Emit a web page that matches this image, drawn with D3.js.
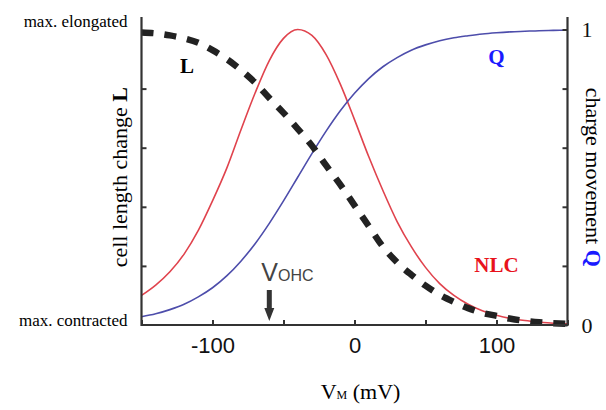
<!DOCTYPE html>
<html>
<head>
<meta charset="utf-8">
<script src="https://cdn.jsdelivr.net/npm/d3@7"></script>
<style>
  body { margin: 0; background: #fff; }
  svg text { font-family: "Liberation Serif", serif; }
</style>
</head>
<body>
<div id="chart"></div>
<script>
// membrane potential (mV)
const voltage = [-150,-140,-130,-120,-110,-100,-90,-80,-70,-60,-50,-40,-30,-20,-10,0,
                 10,20,30,40,50,60,70,80,90,100,110,120,130,140,150];
// cell length change L (normalised)
const lengthL = [0.99,0.987,0.98,0.97,0.955,0.93,0.9,0.863,0.82,0.768,0.718,0.664,0.607,0.54,0.475,0.405,
                 0.335,0.265,0.212,0.17,0.133,0.102,0.078,0.057,0.041,0.031,0.021,0.014,0.009,0.006,0.004];
// charge movement Q
const chargeQ = [0.028,0.038,0.052,0.07,0.095,0.126,0.166,0.216,0.275,0.344,0.42,0.5,0.58,0.656,0.725,0.784,
                 0.834,0.874,0.905,0.93,0.948,0.962,0.972,0.979,0.985,0.989,0.992,0.994,0.996,0.997,0.998];
// nonlinear capacitance NLC
const nlc = [0.1,0.135,0.18,0.24,0.32,0.42,0.53,0.66,0.785,0.895,0.97,1.0,0.98,0.915,0.815,0.695,
             0.57,0.455,0.35,0.265,0.195,0.14,0.1,0.07,0.048,0.033,0.022,0.015,0.01,0.006,0.004];
const xTicks = [-150,-100,-50,0,50,100,150];
const xLabels = [-100,0,100];
const yTicks = [0,0.2,0.4,0.6,0.8,1];
const vOHC = -60;

const width = 606, height = 410;

const x = d3.scaleLinear().domain([-150,150]).range([141.5,567.5]);
const y = d3.scaleLinear().domain([0,1]).range([325,29.5]);

const svg = d3.select("#chart").append("svg")
    .attr("width", width)
    .attr("height", height);

const line = (vals) => d3.line()
    .x((d, i) => x(voltage[i]))
    .y(d => y(d))
    .curve(d3.curveMonotoneX)(vals);

// curves
svg.append("path")
    .attr("d", line(nlc))
    .attr("fill", "none")
    .attr("stroke", "#e0434d")
    .attr("stroke-width", 1.6);

svg.append("path")
    .attr("d", line(chargeQ))
    .attr("fill", "none")
    .attr("stroke", "#4d4dab")
    .attr("stroke-width", 1.6);

svg.append("path")
    .attr("d", line(lengthL))
    .attr("fill", "none")
    .attr("stroke", "#222")
    .attr("stroke-width", 6.5)
    .attr("stroke-dasharray", "12,11");

// axes
const axisColor = "#333";

svg.append("g")
    .attr("transform", `translate(0,${y(0)})`)
    .call(d3.axisBottom(x).tickValues(xTicks).tickSizeInner(-5).tickSizeOuter(0).tickPadding(12)
      .tickFormat(d => xLabels.includes(d) ? (d < 0 ? "-" + Math.abs(d) : d) : ""))
    .call(g => g.select(".domain").remove())
    .call(g => g.selectAll("line").attr("stroke", axisColor).attr("stroke-width", 2))
    .call(g => g.selectAll("text").attr("fill", "#111")
      .style("font-family", "'Liberation Sans', Arial, sans-serif").style("font-size", "22px"));

svg.append("g")
    .attr("transform", `translate(${x(-150)},0)`)
    .call(d3.axisRight(y).tickValues(yTicks.slice(1, 5)).tickSize(5).tickFormat(""))
    .call(g => g.select(".domain").remove())
    .call(g => g.selectAll("line").attr("stroke", axisColor).attr("stroke-width", 2));

svg.append("g")
    .attr("transform", `translate(${x(150)},0)`)
    .call(d3.axisRight(y).tickValues(yTicks).tickSizeInner(-5).tickSizeOuter(0).tickPadding(14)
      .tickFormat(d => (d === 0 || d === 1) ? d : ""))
    .call(g => g.select(".domain").remove())
    .call(g => g.selectAll("line").attr("stroke", axisColor).attr("stroke-width", 2))
    .call(g => g.selectAll("text").attr("fill", "#111")
      .style("font-family", "'Liberation Serif', serif").style("font-size", "22px"));

// axis lines
svg.append("line")
    .attr("x1", x(-150)).attr("x2", x(150))
    .attr("y1", y(0)).attr("y2", y(0))
    .attr("stroke", axisColor).attr("stroke-width", 2.2);
[-150, 150].forEach(v => {
  svg.append("line")
      .attr("x1", x(v)).attr("x2", x(v))
      .attr("y1", y(0) + 1).attr("y2", y(1.042))
      .attr("stroke", axisColor).attr("stroke-width", 2.2);
});

// left axis end labels
svg.append("text")
    .attr("x", x(-150) - 14).attr("y", y(1) - 3)
    .attr("text-anchor", "end")
    .style("font-size", "17px")
    .text("max. elongated");
svg.append("text")
    .attr("x", x(-150) - 14).attr("y", y(0) + 1)
    .attr("text-anchor", "end")
    .style("font-size", "17px")
    .text("max. contracted");

// axis titles
const leftTitle = svg.append("text")
    .attr("transform", `translate(127,${(y(0) + y(1)) / 2}) rotate(-90)`)
    .attr("text-anchor", "middle")
    .style("font-size", "22px");
leftTitle.append("tspan").text("cell length change ");
leftTitle.append("tspan").attr("font-weight", "bold").text("L");

const rightTitle = svg.append("text")
    .attr("transform", `translate(586,${(y(0) + y(1)) / 2}) rotate(90)`)
    .attr("text-anchor", "middle")
    .style("font-size", "22px");
rightTitle.append("tspan").text("charge movement ");
rightTitle.append("tspan").attr("font-weight", "bold").attr("fill", "#1a1aff").text("Q");

const xTitle = svg.append("text")
    .attr("x", x(0) + 6).attr("y", 399)
    .attr("text-anchor", "middle")
    .style("font-size", "22px");
xTitle.append("tspan").text("V");
xTitle.append("tspan").style("font-size", "12px").text("M");
xTitle.append("tspan").text(" (mV)");

// curve labels
svg.append("text")
    .attr("x", x(-118)).attr("y", 73)
    .attr("text-anchor", "middle")
    .attr("font-weight", "bold")
    .style("font-size", "21px")
    .text("L");
svg.append("text")
    .attr("x", x(100)).attr("y", 64)
    .attr("text-anchor", "middle")
    .attr("font-weight", "bold")
    .attr("fill", "#1a1aff")
    .style("font-size", "21px")
    .text("Q");
svg.append("text")
    .attr("x", x(100)).attr("y", 272)
    .attr("text-anchor", "middle")
    .attr("font-weight", "bold")
    .attr("fill", "#e8121c")
    .style("font-size", "21px")
    .text("NLC");

// V_OHC marker
const vx = x(vOHC);
const vLabel = svg.append("text")
    .attr("x", vx - 8).attr("y", 281)
    .attr("fill", "#444")
    .style("font-family", "'Liberation Sans', Arial, sans-serif");
vLabel.append("tspan").style("font-size", "25px").text("V");
vLabel.append("tspan").style("font-size", "16px").text("OHC");

svg.append("path")
    .attr("d", `M${vx - 2.5},290 L${vx + 2.5},290 L${vx + 2.5},308 L${vx + 5},308 L${vx},321 L${vx - 5},308 L${vx - 2.5},308 Z`)
    .attr("fill", "#333");
</script>
</body>
</html>
